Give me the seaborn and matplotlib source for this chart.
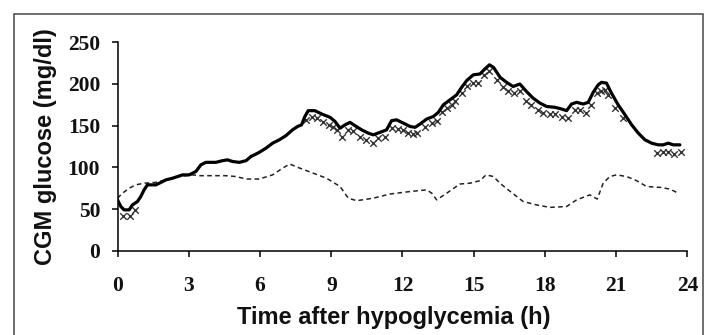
import matplotlib
matplotlib.use("Agg")
import matplotlib.pyplot as plt
import seaborn as sns
import pandas as pd
from matplotlib.patches import Rectangle

# CGM trace (solid)
cgm_t = [0, 0.14, 0.28, 0.49, 0.63, 0.84, 0.98, 1.12, 1.26, 1.62, 1.76, 2.04, 2.32, 2.53,
         2.74, 3.02, 3.3, 3.51, 3.72, 4.14, 4.42, 4.63, 4.85, 5.13, 5.41, 5.62, 5.97, 6.25,
         6.53, 6.81, 7.09, 7.37, 7.58, 7.75, 7.89, 8.03, 8.31, 8.6, 8.95, 9.16, 9.37, 9.58,
         9.79, 10.0, 10.28, 10.56, 10.77, 11.05, 11.33, 11.54, 11.75, 12.04, 12.32, 12.53,
         12.74, 13.02, 13.3, 13.51, 13.72, 14.0, 14.28, 14.49, 14.7, 14.98, 15.26, 15.47,
         15.66, 15.83, 16.11, 16.38, 16.66, 16.94, 17.22, 17.5, 17.79, 18.07, 18.42, 18.7,
         18.91, 19.12, 19.33, 19.61, 19.82, 20.03, 20.24, 20.38, 20.59, 20.8, 21.08, 21.37,
         21.65, 21.93, 22.21, 22.49, 22.77, 22.98, 23.19, 23.4, 23.68]
cgm_v = [61, 53, 49, 49, 55, 59, 65, 73, 79, 79, 81, 85, 87, 89,
         91, 91, 95, 103, 106, 106, 108, 109, 107, 106, 108, 113, 118, 123,
         129, 133, 138, 145, 149, 151, 161, 168, 168, 164, 160, 155, 147, 151,
         154, 150, 145, 141, 139, 142, 145, 156, 157, 153, 149, 148,
         152, 158, 161, 166, 175, 181, 187, 196, 204, 211, 212, 218,
         223, 220, 208, 202, 197, 200, 191, 183, 177, 173, 172, 170,
         168, 176, 178, 176, 178, 190, 199, 202, 201, 189, 175, 163,
         151, 141, 133, 129, 127, 127, 129, 127, 127]

# crosses
x_t = [0.25, 0.51, 0.74, 7.94, 8.17, 8.38, 8.67, 8.92, 9.09, 9.26, 9.47, 9.72, 9.9, 10.21,
       10.46, 10.74, 10.98, 11.26, 11.54, 11.82, 12.03, 12.25, 12.46, 12.62, 12.95, 13.23,
       13.44, 13.65, 13.86, 14.07, 14.21, 14.49, 14.7, 14.98, 15.19, 15.43, 15.66, 15.97,
       16.22, 16.46, 16.69, 16.94, 17.2, 17.43, 17.71, 17.9, 18.2, 18.42, 18.7, 18.95,
       19.26, 19.47, 19.72, 19.92, 20.17, 20.35, 20.52, 20.66, 20.94, 21.27,
       22.7, 22.95, 23.19, 23.43, 23.71]
x_v = [42, 42, 49, 157, 160, 159, 155, 151, 149, 145, 136, 145, 144, 137,
       133, 129, 135, 137, 147, 146, 145, 141, 140, 141, 149, 153,
       156, 167, 171, 175, 179, 189, 197, 201, 201, 211, 215, 205,
       196, 191, 189, 192, 180, 175, 169, 165, 164, 164, 161, 159,
       169, 169, 165, 175, 189, 192, 193, 187, 171, 159,
       117, 118, 119, 116, 119]

# dashed trace
d_t = [0, 0.21, 0.49, 0.77, 1.12, 1.62, 2.04, 2.6, 3.16, 3.44, 3.86, 4.56, 4.99, 5.41,
       5.97, 6.53, 6.95, 7.25, 7.68, 8.24, 8.8, 9.37, 9.72, 10.07, 10.77, 11.47, 12.32,
       13.02, 13.23, 13.44, 13.86, 14.42, 14.84, 15.26, 15.52, 15.83, 16.1, 16.45, 16.81,
       17.08, 17.64, 18.2, 18.91, 19.33, 19.89, 20.2, 20.45, 20.73, 21.01, 21.44, 21.86,
       22.28, 22.84, 23.26, 23.54]
d_v = [63, 69, 75, 79, 81, 82, 85, 89, 91, 90, 90, 90, 89, 86,
       86, 91, 99, 104, 99, 93, 87, 77, 63, 60, 63, 68, 71,
       73, 69, 61, 69, 80, 81, 84, 91, 89, 81, 73, 65,
       59, 55, 52, 53, 61, 67, 62, 81, 89, 91, 89, 84,
       77, 76, 74, 70]

cgm = pd.DataFrame({"t": cgm_t, "v": cgm_v})
crs = pd.DataFrame({"t": x_t, "v": x_v})
dsh = pd.DataFrame({"t": d_t, "v": d_v})

sns.set_style("ticks")
plt.rcParams["font.family"] = ["Liberation Sans", "DejaVu Sans"]

fig = plt.figure(figsize=(7.1, 3.35), dpi=100)
ax = fig.add_axes([0.1655, 0.2516, 0.8028, 0.6221])

sns.lineplot(data=dsh, x="t", y="v", ax=ax, color="#222222", lw=1.1,
             linestyle=(0, (3, 2.2)), sort=False)
sns.scatterplot(data=crs, x="t", y="v", ax=ax, marker="x", s=22, color="#333333",
                linewidth=1.0)
sns.lineplot(data=cgm, x="t", y="v", ax=ax, color="black", lw=2.3, sort=False)

ax.set_xlim(0, 24)
ax.set_ylim(0, 250)
ax.set_xticks(range(0, 25, 3))
ax.set_yticks(range(0, 251, 50))
sns.despine(ax=ax)
for s in ["left", "bottom"]:
    ax.spines[s].set_linewidth(1.1)
    ax.spines[s].set_color("black")
ax.tick_params(direction="out", length=4.5, width=1.1, color="black")
ax.tick_params(axis="x", pad=14)
ax.tick_params(axis="y", pad=8)
for lab in ax.get_xticklabels() + ax.get_yticklabels():
    lab.set_fontfamily("Liberation Serif")
    lab.set_fontweight("bold")
    lab.set_fontsize(15.5)
    lab.set_color("#111111")

ax.set_xlabel("Time after hypoglycemia (h)", fontsize=17, fontweight="bold", color="#111111")
ax.set_ylabel("CGM glucose (mg/dl)", fontsize=17, fontweight="bold", color="#111111")
ax.xaxis.set_label_coords(0.484, -0.265)
ax.yaxis.set_label_coords(-0.106, 0.5)

fig.patches.append(Rectangle((14 / 710, -0.1), 689 / 710, 1.1 - 14 / 335,
                             transform=fig.transFigure, fill=False,
                             edgecolor="#555555", lw=1.2, clip_on=False))

fig.savefig("out.png", dpi=100)
